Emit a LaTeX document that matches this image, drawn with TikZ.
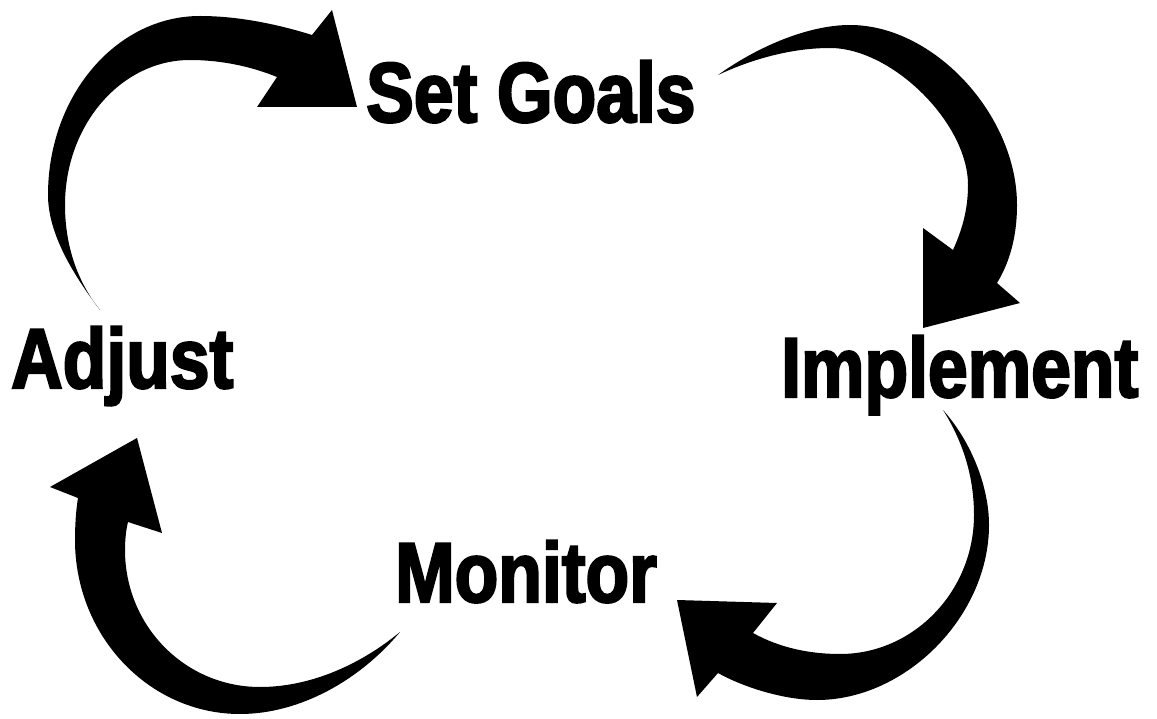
\documentclass[tikz,border=0pt]{standalone}
\usepackage{fontspec}
\usepackage{tikz}
\newfontfamily\cyclefont{Liberation Sans}[UprightFont=* Bold, FakeStretch=0.84, FakeBold=2.6]

\begin{document}
\begin{tikzpicture}[x=1pt, y=-1pt,
  steplabel/.style={anchor=base west, inner sep=0pt,
    font=\cyclefont\fontsize{85}{85}\selectfont},
  arrowbody/.style={fill=black}]

  \useasboundingbox (0,0) rectangle (1157,719);

  % labels
  \node[steplabel] (setgoals)  at (366,122) {Set Goals};
  \node[steplabel] (implement) at (781,397) {Implement};
  \node[steplabel] (monitor)   at (395,602) {Monitor};
  \node[steplabel] (adjust)    at (11,388)  {Adjust};

  % adjust -> set goals
  \fill[arrowbody] (100,310) .. controls (75,277) and (48,235) .. (48,195)
    .. controls (48,96) and (116,16) .. (200,16)
    .. controls (240,16) and (280,25) .. (312,35)
    -- (332,10) -- (357,107) -- (257,107) -- (277,77)
    .. controls (250,66) and (220,60) .. (190,60)
    .. controls (121,60) and (65,125) .. (65,205)
    .. controls (65,250) and (80,285) .. (100,310) -- cycle;

  % set goals -> implement
  \fill[arrowbody] (718,75) .. controls (760,45) and (810,25) .. (850,25)
    .. controls (934,25) and (1017,115) .. (1017,205)
    .. controls (1017,240) and (1008,265) .. (997,283)
    -- (1020,303) -- (923,328) -- (923,228) -- (953,250)
    .. controls (962,230) and (968,210) .. (968,185)
    .. controls (968,123) and (892,48) .. (830,48)
    .. controls (790,48) and (750,60) .. (718,75) -- cycle;

  % implement -> monitor
  \fill[arrowbody] (943,410) .. controls (970,440) and (989,485) .. (989,525)
    .. controls (989,616) and (906,700) .. (817,700)
    .. controls (785,700) and (745,688) .. (718,673)
    -- (697,697) -- (677,600) -- (777,603) -- (753,633)
    .. controls (780,648) and (810,654) .. (840,654)
    .. controls (914,654) and (974,591) .. (974,515)
    .. controls (974,475) and (962,440) .. (943,410) -- cycle;

  % monitor -> adjust
  \fill[arrowbody] (400,632) .. controls (360,680) and (300,714) .. (240,714)
    .. controls (149,714) and (75,636) .. (75,540)
    .. controls (75,525) and (76,510) .. (78,498)
    -- (50,487) -- (137,438) -- (162,533) -- (128,522)
    .. controls (126,530) and (125,540) .. (125,550)
    .. controls (125,626) and (185,687) .. (260,687)
    .. controls (310,687) and (360,665) .. (400,632) -- cycle;

\end{tikzpicture}
\end{document}
